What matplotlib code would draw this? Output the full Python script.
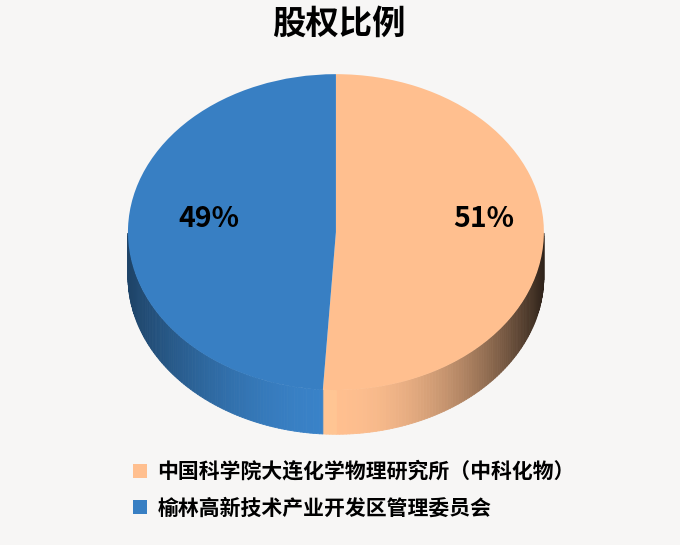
import numpy as np
import matplotlib.pyplot as plt
from matplotlib.collections import PolyCollection
from matplotlib.colors import to_rgb
from matplotlib.patches import Patch

plt.rcParams['font.family'] = ['Noto Sans CJK SC', 'DejaVu Sans']

title = "股权比例"
labels = ["中国科学院大连化学物理研究所（中科化物）", "榆林高新技术产业开发区管理委员会"]
shares = [51, 49]
colors = ["#ffbf8f", "#387fc3"]

bg = "#f7f6f5"
depth = 0.28

fig = plt.figure(figsize=(6.8, 5.45), dpi=100, facecolor=bg)
ax = fig.add_axes([0.127, 0.1394, 0.734, 0.768])
ax.set_facecolor(bg)


def shade(x):
    # lighter toward the front, darker toward the sides (right side darker)
    if x >= 0:
        return 1 - 0.82 * x ** 2
    return 1.03 - 0.5 * (-x) ** 1.8


# side wall of the tilted pie
fracs = np.array(shares) / sum(shares)
start = 90.0
polys, pcols = [], []
for frac, col in zip(fracs, colors):
    end = start - frac * 360
    th = np.linspace(start, end, 200)
    base = np.array(to_rgb(col))
    for a, b in zip(th[:-1], th[1:]):
        m = np.deg2rad((a + b) / 2)
        if np.sin(m) > 0:
            continue
        ra, rb = np.deg2rad(a), np.deg2rad(b)
        xa, ya = np.cos(ra), np.sin(ra)
        xb, yb = np.cos(rb), np.sin(rb)
        polys.append([(xa, ya), (xb, yb), (xb, yb - depth), (xa, ya - depth)])
        pcols.append(np.clip(base * shade(np.cos(m)), 0, 1))
    start = end

ax.add_collection(PolyCollection(polys, facecolors=pcols, edgecolors=pcols,
                                 linewidths=0.6))

wedges, texts, autotexts = ax.pie(
    shares, colors=colors, startangle=90, counterclock=False,
    autopct="%d%%", pctdistance=0.66,
    wedgeprops=dict(edgecolor="none"),
    textprops=dict(fontsize=20.5, fontweight="bold", color="black"),
)
for t in autotexts:
    x, y = t.get_position()
    t.set_position((x + 0.05, 0.086))

ax.set_aspect("auto")
ax.set_xlim(-1.2, 1.2)
ax.set_ylim(-1.5, 1.15)
ax.axis("off")

fig.text(339 / 680, 1 - 24 / 545, title, ha="center", va="center",
         fontsize=24, fontweight="bold")

handles = [Patch(facecolor=c, edgecolor="none") for c in colors]
fig.legend(handles, labels, loc="upper left",
           bbox_to_anchor=(133 / 680, 1 - 461 / 545), frameon=False,
           prop=dict(size=15, weight="bold"), handlelength=0.67,
           handleheight=0.67, handletextpad=0.5, labelspacing=0.75,
           borderpad=0, borderaxespad=0)

fig.savefig("out.png", dpi=100, facecolor=bg)
